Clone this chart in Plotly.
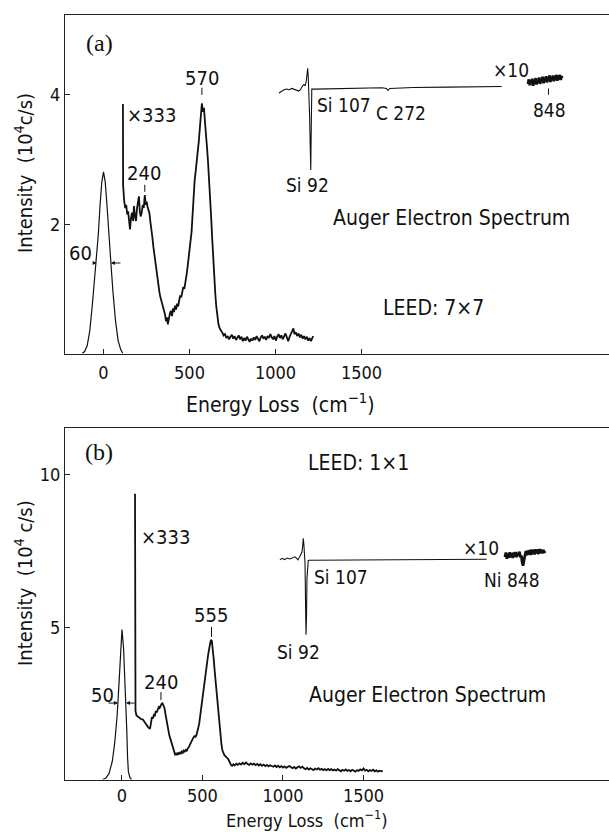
import plotly.graph_objects as go

# ---------------- Panel (a) data ----------------
a_elastic_x = [-125, -110, -95, -80, -65, -50, -40, -30, -20, -10, 0, 10, 20, 30, 43, 55, 70, 85, 100, 112]
a_elastic_y = [0.0, 0.03, 0.12, 0.35, 0.75, 1.2, 1.45, 1.85, 2.3, 2.65, 2.81, 2.65, 2.3, 1.85, 1.4, 0.95, 0.5, 0.2, 0.06, 0.0]

a_loss_x = [113, 114, 120, 126, 132, 138, 143, 148, 154, 160, 166, 172, 177, 183, 189, 195, 200, 206, 211, 216,
            222, 228, 234, 240, 246, 251, 256, 262, 267, 272, 278, 284, 290, 296, 302, 308, 313, 319, 325, 330,
            335, 341, 347, 352, 358, 363, 369, 374, 380, 386, 392, 398, 404, 410, 416, 422, 428, 434, 440, 446,
            452, 458, 464, 470, 476, 482, 488, 494, 500, 506, 512, 518, 524, 530, 536, 542, 548, 554, 560, 566,
            572, 578, 584, 590, 596, 602, 608, 614, 620, 626, 632, 638, 644, 650, 656, 662, 668, 674, 680, 686,
            690, 698, 706, 714, 722, 730, 738, 746, 754, 762, 770, 778, 786, 794, 802, 810, 818, 826, 834, 842,
            850, 858, 866, 874, 882, 890, 898, 906, 914, 922, 930, 938, 946, 954, 962, 970, 978, 986, 994, 1002,
            1010, 1018, 1026, 1034, 1042, 1050, 1058, 1066, 1074, 1082, 1090, 1098, 1104, 1110, 1118, 1126, 1134,
            1142, 1150, 1158, 1166, 1174, 1182, 1190, 1198, 1206, 1212, 1219]
a_loss_y = [3.86, 2.6, 2.37, 2.25, 2.3, 2.15, 2.2, 2.0, 1.92, 2.1, 2.18, 2.05, 2.28, 2.12, 2.05, 2.25, 2.35, 2.43, 2.2, 2.12,
            2.18, 2.3, 2.25, 2.45, 2.3, 2.35, 2.27, 2.22, 2.17, 2.05, 1.95, 1.8, 1.65, 1.52, 1.4, 1.27, 1.19, 1.05, 0.95, 0.88,
            0.83, 0.76, 0.7, 0.66, 0.6, 0.5, 0.56, 0.45, 0.58, 0.62, 0.66, 0.58, 0.7, 0.64, 0.74, 0.68, 0.77, 0.73, 0.82, 0.9,
            0.87, 0.96, 1.03, 1.0, 1.08, 1.2, 1.32, 1.45, 1.6, 1.72, 1.88, 2.15, 2.45, 2.68, 2.82, 2.95, 3.1, 3.28, 3.48, 3.7,
            3.87, 3.74, 3.8, 3.58, 3.42, 3.18, 2.95, 2.72, 2.48, 2.1, 1.78, 1.45, 1.15, 0.92, 0.72, 0.56, 0.46, 0.4, 0.36, 0.34,
            0.33, 0.28, 0.3, 0.24, 0.27, 0.22, 0.26, 0.29, 0.23, 0.27, 0.21, 0.25, 0.28, 0.22, 0.26, 0.19, 0.24, 0.2, 0.26, 0.22,
            0.18, 0.23, 0.2, 0.25, 0.21, 0.27, 0.22, 0.19, 0.25, 0.28, 0.23, 0.26, 0.21, 0.27, 0.24, 0.3, 0.25, 0.22, 0.27, 0.2,
            0.26, 0.3, 0.24, 0.28, 0.22, 0.27, 0.31, 0.25, 0.19, 0.26, 0.3, 0.36, 0.39, 0.3, 0.33, 0.27, 0.31,
            0.25, 0.29, 0.23, 0.27, 0.22, 0.26, 0.2, 0.24, 0.19, 0.22, 0.27]

a_aes_x = [1020, 1035, 1050, 1065, 1080, 1095, 1110, 1125, 1135, 1145, 1155, 1165, 1172, 1178, 1184, 1187, 1190, 1194,
           1198, 1202, 1205, 1207, 1209, 1211, 1230, 1300, 1400, 1500, 1620, 1645, 1654, 1665, 1800, 2000, 2200, 2315]
a_aes_y = [4.03, 4.06, 4.08, 4.09, 4.08, 4.1, 4.09, 4.07, 4.06, 4.08, 4.13, 4.16, 4.14, 4.2, 4.33, 4.41, 4.3, 4.1,
           3.7, 3.2, 2.84, 3.3, 3.9, 4.09, 4.09, 4.095, 4.1, 4.105, 4.11, 4.1, 4.07, 4.1, 4.115, 4.12, 4.125, 4.13]

a_x10_x = [2468, 2473, 2478, 2483, 2488, 2493, 2498, 2503, 2508, 2513, 2518, 2523, 2528, 2533, 2538, 2543, 2548, 2553,
           2558, 2563, 2568, 2573, 2578, 2583, 2588, 2593, 2598, 2603, 2608, 2613, 2618, 2623, 2628, 2633, 2638, 2643,
           2648, 2653, 2658, 2663, 2666]
a_x10_y = [4.17, 4.24, 4.15, 4.23, 4.17, 4.25, 4.14, 4.22, 4.18, 4.26, 4.16, 4.24, 4.19, 4.27, 4.17, 4.25, 4.2, 4.28,
           4.18, 4.26, 4.21, 4.29, 4.19, 4.27, 4.22, 4.3, 4.2, 4.28, 4.23, 4.3, 4.21, 4.29, 4.24, 4.31, 4.22, 4.3,
           4.24, 4.31, 4.23, 4.29, 4.26]

# ---------------- Panel (b) data ----------------
b_elastic_x = [-120, -100, -80, -60, -45, -30, -20, -10, 0, 10, 20, 25, 30, 35, 40, 50, 60]
b_elastic_y = [0.0, 0.05, 0.2, 0.6, 1.2, 2.1, 3.0, 4.2, 4.92, 4.3, 3.1, 2.5, 1.6, 0.7, 0.25, 0.05, 0.0]

b_loss_x = [81, 81, 84, 90, 100, 110, 120, 130, 140, 148, 155, 162, 168, 174, 180, 186, 192, 198, 204, 210,
            216, 222, 228, 234, 240, 246, 252, 258, 264, 270, 276, 282, 288, 294, 300, 306, 312, 318, 324, 330,
            336, 342, 348, 354, 360, 366, 372, 378, 384, 390, 396, 402, 408, 414, 420, 426, 432, 438, 444, 450,
            456, 462, 468, 474, 480, 486, 492, 498, 504, 510, 516, 522, 528, 534, 540, 546, 552, 558, 564, 570,
            576, 582, 588, 594, 600, 606, 612, 618, 624, 630, 636, 642, 648, 654, 660, 666, 672, 678, 684,
            692, 700, 710, 720, 730, 740, 750, 760, 770, 780, 790, 800, 810, 820, 830, 840, 850, 860, 870, 880,
            890, 900, 910, 920, 930, 940, 950, 960, 970, 980, 990, 1000, 1010, 1020, 1030, 1040, 1050, 1060, 1070,
            1080, 1090, 1100, 1110, 1120, 1130, 1140, 1150, 1160, 1170, 1180, 1190, 1200, 1210, 1220, 1230, 1240,
            1250, 1260, 1270, 1280, 1290, 1300, 1310, 1320, 1330, 1340, 1350, 1360, 1370, 1380, 1390, 1400, 1410,
            1420, 1430, 1440, 1450, 1460, 1470, 1480, 1490, 1500, 1510, 1520, 1530, 1540, 1550, 1560, 1570, 1580,
            1590, 1600, 1610, 1620]
b_loss_y = [9.38, 2.6, 2.25, 2.1, 2.05, 2.02, 1.98, 1.97, 1.88, 1.8, 1.75, 1.72, 1.69, 1.66, 1.85, 2.05, 2.0, 2.12, 2.1, 2.25,
            2.2, 2.32, 2.38, 2.35, 2.45, 2.48, 2.5, 2.42, 2.35, 2.15, 1.95, 1.75, 1.6, 1.45, 1.35, 1.25, 1.15, 1.0, 0.9, 0.82,
            0.85, 0.8, 0.88, 0.82, 0.9, 0.86, 0.92, 0.88, 0.95, 0.92, 0.97, 0.93, 1.02, 1.05, 1.12, 1.2, 1.25, 1.3, 1.38, 1.42,
            1.4, 1.45, 1.55, 1.7, 1.85, 2.1, 2.4, 2.7, 2.95, 3.2, 3.45, 3.7, 3.9, 4.05, 4.25, 4.45, 4.58, 4.55, 4.3, 3.95,
            3.55, 3.2, 2.8, 2.4, 2.0, 1.65, 1.35, 1.15, 0.95, 0.85, 0.8, 0.77, 0.72, 0.7, 0.67, 0.6, 0.52, 0.47, 0.45,
            0.5, 0.46, 0.52, 0.48, 0.53, 0.49, 0.55, 0.5, 0.56, 0.51, 0.48, 0.53, 0.49, 0.52, 0.47, 0.51, 0.46, 0.5, 0.45, 0.49,
            0.44, 0.48, 0.43, 0.47, 0.44, 0.42, 0.46, 0.41, 0.45, 0.4, 0.44, 0.39, 0.43, 0.38, 0.42, 0.44, 0.4, 0.37, 0.41,
            0.36, 0.4, 0.43, 0.38, 0.42, 0.37, 0.34, 0.38, 0.33, 0.37, 0.35, 0.31, 0.36, 0.33, 0.37, 0.32, 0.35,
            0.31, 0.34, 0.3, 0.35, 0.31, 0.34, 0.3, 0.33, 0.29, 0.34, 0.3, 0.27, 0.32, 0.29, 0.33, 0.28, 0.31,
            0.27, 0.32, 0.29, 0.26, 0.31, 0.28, 0.33, 0.3, 0.36, 0.29, 0.32, 0.27, 0.31, 0.28, 0.32, 0.27, 0.3,
            0.26, 0.29, 0.27, 0.28]

b_aes_x = [981, 995, 1010, 1025, 1043, 1060, 1075, 1085, 1093, 1105, 1118, 1123, 1126, 1130, 1134, 1137, 1140, 1143,
           1146, 1149, 1153, 1157, 1165, 1300, 1600, 1900, 2265]
b_aes_y = [7.21, 7.26, 7.22, 7.27, 7.24, 7.29, 7.31, 7.26, 7.21, 7.33, 7.47, 7.7, 7.92, 7.7, 7.4, 7.1, 5.9, 4.75,
           5.3, 6.6, 7.1, 7.19, 7.2, 7.205, 7.21, 7.215, 7.23]

b_x10_x = [2379, 2385, 2391, 2397, 2403, 2409, 2415, 2421, 2427, 2433, 2439, 2445, 2451, 2457, 2463, 2469, 2475, 2481,
           2485, 2491, 2497, 2503, 2509, 2515, 2521, 2527, 2533, 2539, 2545, 2551, 2557, 2563, 2569, 2575, 2581, 2587,
           2593, 2599, 2605, 2611, 2617, 2623, 2627]
b_x10_y = [7.3, 7.45, 7.25, 7.42, 7.28, 7.46, 7.3, 7.44, 7.27, 7.45, 7.31, 7.47, 7.3, 7.44, 7.34, 7.48, 7.3, 7.35,
           7.15, 7.02, 7.2, 7.35, 7.5, 7.36, 7.52, 7.38, 7.53, 7.37, 7.55, 7.4, 7.54, 7.39, 7.56, 7.42, 7.55, 7.4,
           7.57, 7.43, 7.55, 7.42, 7.54, 7.45, 7.5]

x_tickvals = [0, 500, 1000, 1500]
a_y_tickvals = [2, 4]
b_y_tickvals = [5, 10]

# ---------------- Figure ----------------
FONT = "DejaVu Sans Condensed, Liberation Sans Narrow, DejaVu Sans, sans-serif"
SERIF = "Liberation Serif, Times New Roman, serif"
INK = "#111111"
LBL = 20

fig = go.Figure()

def line(x, y, xa, ya, w=1.6):
    fig.add_trace(go.Scatter(x=x, y=y, mode="lines", xaxis=xa, yaxis=ya,
                             line=dict(color=INK, width=w), hoverinfo="skip", showlegend=False))

line(a_elastic_x, a_elastic_y, "x", "y", 1.2)
line(a_loss_x, a_loss_y, "x", "y", 1.8)
line(a_aes_x, a_aes_y, "x", "y", 1.1)
line(a_x10_x, a_x10_y, "x", "y", 2.8)
line(b_elastic_x, b_elastic_y, "x2", "y2", 1.2)
line(b_loss_x, b_loss_y, "x2", "y2", 1.8)
line(b_aes_x, b_aes_y, "x2", "y2", 1.1)
line(b_x10_x, b_x10_y, "x2", "y2", 2.8)

axis_common = dict(showline=True, linecolor="#222", linewidth=1, ticks="inside", ticklen=5,
                   tickcolor="#222", showgrid=False, zeroline=False,
                   tickfont=dict(family=FONT, size=18, color=INK))

fig.update_layout(
    width=609, height=832, margin=dict(l=0, r=0, t=0, b=0),
    paper_bgcolor="white", plot_bgcolor="white",
    xaxis=dict(domain=[0.1067, 1.0], range=[-224, 2939], tickvals=x_tickvals, mirror=True,
               anchor="y", ticklabelstandoff=3, **axis_common),
    yaxis=dict(domain=[0.5751, 0.9816], range=[0, 5.231], tickvals=a_y_tickvals, anchor="x", **axis_common),
    xaxis2=dict(domain=[0.1067, 1.0], range=[-354, 3025], tickvals=x_tickvals, mirror=True,
                anchor="y2", ticklabelstandoff=0, **axis_common),
    yaxis2=dict(domain=[0.0631, 0.4852], range=[0, 11.53], tickvals=b_y_tickvals, anchor="x2", **axis_common),
)

def txt(x, y, s, xr, yr, size=LBL, anchor="center", font=FONT, angle=0):
    fig.add_annotation(x=x, y=y, xref=xr, yref=yr, text=s, showarrow=False, xanchor=anchor,
                       yanchor="middle", textangle=angle,
                       font=dict(family=font, size=size, color=INK))

def tick(x, y0, y1, xr, yr):
    fig.add_shape(type="line", x0=x, x1=x, y0=y0, y1=y1, xref=xr, yref=yr,
                  line=dict(color=INK, width=1))

def arrow(xh, xt, y, xr, yr):
    fig.add_annotation(x=xh, y=y, ax=xt, ay=y, xref=xr, yref=yr, axref=xr, ayref=yr, text="",
                       showarrow=True, arrowhead=2, arrowsize=0.8, arrowwidth=1, arrowcolor=INK)

# panel (a) labels
txt(-26, 4.80, "(a)", "x", "y", size=24, font=SERIF)
txt(570, 4.26, "570", "x", "y")
tick(572, 4.0, 4.11, "x", "y")
txt(125, 3.69, "×333", "x", "y", anchor="left")
txt(235, 2.79, "240", "x", "y")
tick(240, 2.5, 2.61, "x", "y")
txt(-136, 1.55, "60", "x", "y")
arrow(-40, -67, 1.40, "x", "y")
arrow(43, 107, 1.40, "x", "y")
txt(1227, 3.84, "Si 107", "x", "y", size=19, anchor="left")
txt(1575, 3.72, "C 272", "x", "y", size=19, anchor="left")
txt(2594, 3.77, "848", "x", "y", size=19)
tick(2587, 4.0, 4.1, "x", "y")
txt(2369, 4.39, "×10", "x", "y", size=19)
txt(1185, 2.61, "Si 92", "x", "y", size=19)
txt(2021, 2.10, "Auger Electron Spectrum", "x", "y", size=21)
txt(1916, 0.70, "LEED: 7×7", "x", "y", size=21)

# panel (b) labels
txt(-143, 10.76, "(b)", "x2", "y2", size=24, font=SERIF)
txt(1469, 10.39, "LEED: 1×1", "x2", "y2", size=21)
txt(106, 7.96, "×333", "x2", "y2", anchor="left")
txt(550, 5.40, "555", "x2", "y2")
tick(556, 4.68, 5.01, "x2", "y2")
txt(245, 3.20, "240", "x2", "y2")
tick(242, 2.61, 2.87, "x2", "y2")
txt(-121, 2.78, "50", "x2", "y2")
arrow(-25, -93, 2.51, "x2", "y2")
arrow(25, 87, 2.51, "x2", "y2")
txt(1180, 6.65, "Si 107", "x2", "y2", size=19, anchor="left")
txt(2425, 6.55, "Ni 848", "x2", "y2", size=19)
txt(2233, 7.60, "×10", "x2", "y2", size=19)
txt(1099, 4.19, "Si 92", "x2", "y2", size=19)
txt(1900, 2.78, "Auger Electron Spectrum", "x2", "y2", size=21)

# axis titles (paper coords)
txt(280 / 609, 1 - 403 / 832, "Energy Loss  (cm<sup>−1</sup>)", "paper", "paper", size=21)
txt(307 / 609, 1 - 819 / 832, "Energy Loss  (cm<sup>−1</sup>)", "paper", "paper", size=18)
txt(24 / 609, 1 - 173 / 832, "Intensity  (10<sup>4</sup>c/s)", "paper", "paper", size=20, angle=-90)
txt(24 / 609, 1 - 583 / 832, "Intensity  (10<sup>4</sup> c/s)", "paper", "paper", size=20, angle=-90)

fig.write_html("out.html", config={"displayModeBar": False},
               post_script="document.body.style.margin='0px';document.body.style.overflow='hidden';")
